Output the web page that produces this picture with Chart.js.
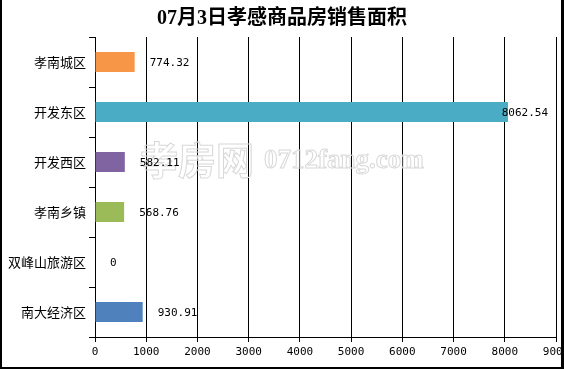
<!DOCTYPE html>
<html><head><meta charset="utf-8">
<script src="https://cdn.jsdelivr.net/npm/chart.js@4.4.0/dist/chart.umd.min.js"></script>
<style>html,body{margin:0;padding:0;background:#fff}#wrap{width:564px;height:369px;position:relative}</style>
</head><body><div id="wrap"><canvas id="c" width="564" height="369"></canvas></div>
<script>
const categories = ["孝南城区","开发东区","开发西区","孝南乡镇","双峰山旅游区","南大经济区"];
const values = [774.32, 8062.54, 582.11, 568.76, 0, 930.91];
const barColors = ["#F79646","#4BACC6","#8064A2","#9BBB59","#4F81BD","#4F81BD"];
const titleText = "07月3日孝感商品房销售面积";
const xTicks = [0,1000,2000,3000,4000,5000,6000,7000,8000,9000];

const extras = {
  id: 'extras',
  beforeDatasetsDraw(chart) {
    const ctx = chart.ctx;
    ctx.save();
    ctx.strokeStyle = '#d8d8d8';
    ctx.lineWidth = 1;
    ctx.textBaseline = 'middle';
    ctx.font = 'bold 38px "Noto Sans CJK SC"';
    ctx.strokeText('孝房网', 140, 160);
    ctx.font = 'bold 27px "Liberation Serif"';
    ctx.strokeText('0712fang.com', 264, 161);
    ctx.restore();
  },
  afterDraw(chart) {
    const ctx = chart.ctx;
    const xs = chart.scales.x, ys = chart.scales.y;
    ctx.save();
    ctx.font = '11px "DejaVu Sans Mono"';
    ctx.fillStyle = '#000';
    ctx.textBaseline = 'middle';
    values.forEach((v, i) => {
      const t = v.toString() === '0' ? '0' : v.toFixed(2);
      const w = ctx.measureText(t).width;
      let left = xs.getPixelForValue(v) + 15;
      left = Math.min(left, chart.chartArea.right - w - 8);
      ctx.fillText(t, left, ys.getPixelForValue(i) + 1);
    });
    ctx.font = 'bold 20px "Liberation Serif", "Noto Sans CJK SC"';
    ctx.textAlign = 'center';
    ctx.fillText(titleText, 282, 19);
    ctx.fillStyle = '#000';
    ctx.fillRect(0, 0, 2, 369);
    ctx.fillRect(561, 0, 3, 369);
    ctx.fillRect(0, 367, 564, 2);
    ctx.restore();
  }
};

new Chart(document.getElementById('c'), {
  type: 'bar',
  data: {
    labels: categories,
    datasets: [{ data: values, backgroundColor: barColors, barPercentage: 0.4, categoryPercentage: 1.0, borderWidth: 0 }]
  },
  options: {
    indexAxis: 'y',
    responsive: false,
    animation: false,
    devicePixelRatio: 1,
    layout: { padding: { top: 37, right: 8, left: 0, bottom: 0 } },
    plugins: { legend: { display: false }, tooltip: { enabled: false }, title: { display: false } },
    scales: {
      x: {
        min: 0, max: 9000,
        afterBuildTicks(s) { s.ticks = xTicks.map(v => ({ value: v })); },
        afterFit(s) { s.height = 32; s.paddingLeft = 0; s.paddingRight = 0; },
        grid: { color: '#000', lineWidth: 1, drawTicks: true, tickLength: 5, tickColor: '#000' },
        border: { color: '#000', width: 1 },
        ticks: { color: '#000', font: { family: '"DejaVu Sans Mono"', size: 11 }, padding: 4, maxRotation: 0, autoSkip: false,
                 callback: v => String(v) }
      },
      y: {
        afterFit(s) { s.width = 95; s.paddingTop = 0; s.paddingBottom = 0; },
        grid: { display: true, drawOnChartArea: false, drawTicks: true, tickLength: 6, tickColor: '#000', offset: true },
        border: { color: '#000', width: 1 },
        ticks: { color: '#000', font: { family: '"Noto Sans CJK SC"', size: 13 }, padding: 3, autoSkip: false }
      }
    }
  },
  plugins: [extras]
});
</script></body></html>
